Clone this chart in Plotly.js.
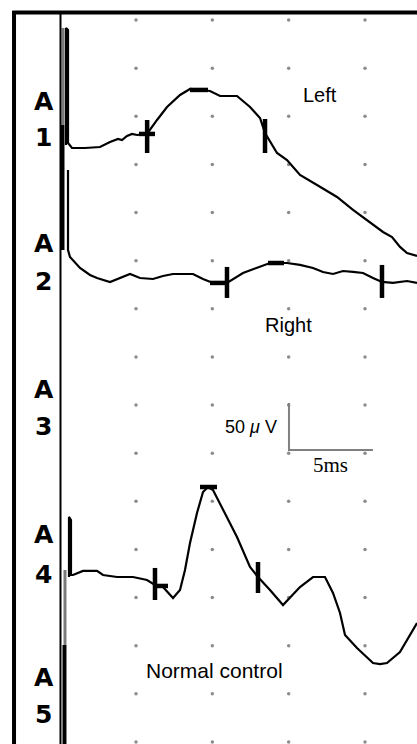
<!DOCTYPE html>
<html><head><meta charset="utf-8">
<script src="https://cdn.plot.ly/plotly-3.0.1.min.js"></script>
<style>html,body{margin:0;padding:0;background:#fff;}#chart{width:417px;height:744px;}</style>
</head><body><div id="chart"></div>
<script>
// Time in ms (5 ms per grid column), amplitude in µV (50 µV per grid row)
const leftTime = [0.415,0.415,0.546,0.546,0.807,1.659,2.642,3.297,3.821,4.083,4.411,4.739,5.067,5.722,6.377,7.032,7.884,8.539,9.194,9.849,10.504,11.617,12.469,13.124,13.451,14.237,14.892,15.743,16.857,18.167,19.215,20.525,21.180,21.770,22.294,22.752,23.407];
const leftAmp = [620.2,741.8,739.7,622.3,617.1,617.1,618.1,623.3,626.5,625.4,629.6,631.7,630.6,631.7,646.2,659.7,672.2,678.4,677.4,676.3,671.1,671.1,659.7,648.3,632.7,611.9,604.6,589.1,578.7,566.2,552.7,537.1,529.8,524.6,514.3,508.0,504.9];

const rightTime = [0.546,0.546,0.677,1.332,1.987,2.445,3.297,3.952,4.607,5.262,6.113,6.768,7.423,8.733,9.388,10.043,10.960,12.008,12.925,13.777,14.890,15.742,16.594,17.249,17.904,18.559,19.214,19.869,20.524,21.113,21.834,22.751,23.406];
const rightAmp = [594.3,511.1,503.9,492.4,485.2,482.0,477.9,482.0,486.2,482.0,481.0,484.1,486.2,486.2,481.0,476.9,476.9,487.2,492.4,497.6,497.6,495.6,492.4,488.3,486.2,489.3,488.3,487.2,482.0,477.9,476.9,478.9,476.9];

const normalTime = [0.611,0.611,0.742,0.742,0.873,1.528,2.445,2.838,3.755,4.803,5.720,6.244,6.768,7.423,7.882,8.210,8.537,8.996,9.389,9.716,10.044,10.699,11.616,12.467,12.991,13.777,14.629,15.742,16.594,17.380,17.904,18.363,18.690,19.476,20.524,20.980,21.438,22.290,23.142,23.406];
const normalAmp = [171.4,233.8,230.6,173.5,173.5,177.7,177.7,173.5,171.4,171.4,168.3,163.1,161.0,149.6,157.9,178.7,206.7,237.9,259.7,264.9,261.8,241.0,213.0,181.8,171.4,157.9,142.3,161.0,171.4,171.4,154.8,134.0,111.2,97.7,82.1,81.0,82.1,93.5,116.4,123.6];

// latency / peak cursors
const markTime = [5.730,5.730,null,5.197,6.244,null,8.537,9.716,null,13.451,13.451,null,10.960,10.960,null,9.848,10.960,null,13.646,14.694,null,21.113,21.113,null,6.244,6.244,null,6.244,7.095,null,9.193,10.307,null,12.991,12.991];
const markAmp = [646.2,611.9,null,631.7,631.7,null,677.4,677.4,null,647.2,611.9,null,493.5,461.3,null,476.9,476.9,null,497.6,497.6,null,495.6,461.3,null,180.8,147.5,null,162.1,162.1,null,264.9,264.9,null,187.0,154.8];

// stimulus artifact columns
const stimGrayTime = [0.219,0.219,null,0.349,0.349];
const stimGrayAmp = [741.8,641.0,null,178.7,100.8];
const stimBlackTime = [0.185,0.185,null,0.316,0.316];
const stimBlackAmp = [641.0,511.1,null,100.8,-5];

// calibration bar (50 µV / 5 ms)
const calTime = [15.02,15.02,20.52];
const calAmp = [352.2,303.4,303.4];

// dotted grid
const gridTimes = [5,10,15,20];
const gridAmps = [0,50,100,150,200,250,300,350,400,450,500,550,600,650,700,750];

const channelNames = ['1','2','3','4','5'];
const letterAmp = [665.0,517.4,365.7,215.1,67.5];
const numberAmp = [627.5,478.9,327.3,173.5,28.1];

const gx = [], gy = [];
gridTimes.forEach(t => gridAmps.forEach(a => { gx.push(t); gy.push(a); }));

const traces = [
  {x: gx, y: gy, mode: 'markers', marker: {size: 3.5, color: '#8c8c8c'}, hoverinfo: 'skip'},
  {x: stimGrayTime, y: stimGrayAmp, mode: 'lines', line: {color: '#7a7a7a', width: 3}},
  {x: stimBlackTime, y: stimBlackAmp, mode: 'lines', line: {color: '#000', width: 4}},
  {x: calTime, y: calAmp, mode: 'lines', line: {color: '#808080', width: 2}},
  {x: leftTime, y: leftAmp, mode: 'lines', line: {color: '#000', width: 2.2}},
  {x: rightTime, y: rightAmp, mode: 'lines', line: {color: '#000', width: 2.2}},
  {x: normalTime, y: normalAmp, mode: 'lines', line: {color: '#000', width: 2.2}},
  {x: markTime, y: markAmp, mode: 'lines', line: {color: '#000', width: 4.5}, connectgaps: false}
];

const ann = [];
const labFont = {family: 'DejaVu Sans', size: 25, color: '#000', weight: 'bold'};
channelNames.forEach((n, i) => {
  ann.push({x: -1.03, y: letterAmp[i], text: 'A', showarrow: false, xanchor: 'center', yanchor: 'middle', font: labFont});
  ann.push({x: -1.03, y: numberAmp[i], text: n, showarrow: false, xanchor: 'center', yanchor: 'middle', font: labFont});
});
const txtFont = {family: 'Liberation Sans, Arial, sans-serif', size: 20, color: '#000'};
ann.push({x: 17.05, y: 672.2, text: 'Left', showarrow: false, xanchor: 'center', yanchor: 'middle', font: txtFont});
ann.push({x: 15.02, y: 433.2, text: 'Right', showarrow: false, xanchor: 'center', yanchor: 'middle', font: txtFont});
ann.push({x: 10.12, y: 74.8, text: 'Normal control', showarrow: false, xanchor: 'center', yanchor: 'middle', font: {family: 'Liberation Sans, Arial, sans-serif', size: 21, color: '#000'}});
ann.push({x: 12.53, y: 327.3, text: '50 <i>μ</i> V', showarrow: false, xanchor: 'center', yanchor: 'middle', font: {family: 'Liberation Sans, Arial, sans-serif', size: 18, color: '#000'}});
ann.push({x: 17.77, y: 287.8, text: '5ms', showarrow: false, xanchor: 'center', yanchor: 'middle', font: {family: 'Liberation Serif, Times New Roman, serif', size: 21, color: '#000'}});

const layout = {
  width: 417, height: 744,
  margin: {l: 0, r: 0, t: 0, b: 0},
  paper_bgcolor: '#fff', plot_bgcolor: '#fff',
  showlegend: false,
  xaxis: {range: [-3.908, 23.406], visible: false, fixedrange: true},
  yaxis: {range: [-2.08, 770.83], visible: false, fixedrange: true},
  shapes: [
    {type: 'line', xref: 'x', yref: 'y', x0: -2.99, x1: -2.99, y0: -20, y1: 759.5, line: {color: '#000', width: 4}},
    {type: 'line', xref: 'x', yref: 'y', x0: -3.1, x1: 30, y0: 757.9, y1: 757.9, line: {color: '#000', width: 4}},
    {type: 'line', xref: 'x', yref: 'y', x0: 0.054, x1: 0.054, y0: -20, y1: 757.9, line: {color: '#000', width: 2}}
  ],
  annotations: ann
};

Plotly.newPlot('chart', traces, layout, {staticPlot: true, displayModeBar: false});
</script>
</body></html>
